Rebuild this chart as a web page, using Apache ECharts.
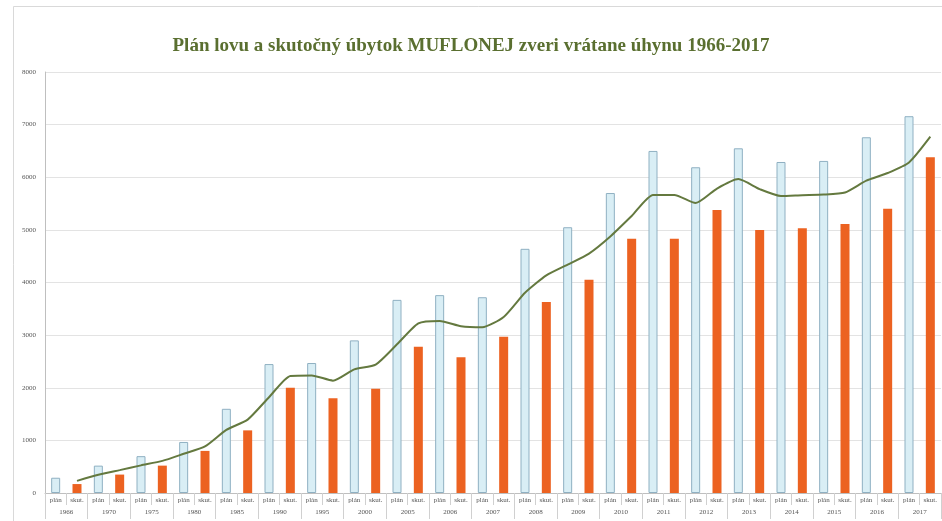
<!DOCTYPE html>
<html>
<head>
<meta charset="utf-8">
<script src="https://cdn.jsdelivr.net/npm/echarts@6/dist/echarts.min.js"></script>
<style>
html,body{margin:0;padding:0;background:#fff;}
#c{width:942px;height:521px;}
</style>
</head>
<body>
<div id="c"></div>
<script>
// ---- data ----
const years = ['1966','1970','1975','1980','1985','1990','1995','2000','2005','2006','2007','2008','2009','2010','2011','2012','2013','2014','2015','2016','2017'];
const subLabels = ['plán','skut.'];
const planValues = [290, 520, 700, 970, 1600, 2450, 2470, 2900, 3670, 3760, 3720, 4640, 5050, 5700, 6500, 6190, 6550, 6290, 6310, 6760, 7160];
const skutValues = [170, 350, 520, 800, 1190, 2000, 1800, 1980, 2780, 2580, 2970, 3630, 4050, 4830, 4830, 5380, 5000, 5030, 5110, 5400, 6380];
// trend line (2-period moving average as drawn), values from 'skut. 1966' onward
const trendValues = [230, 345, 435, 525, 610, 745, 885, 1200, 1395, 1820, 2225, 2235, 2135, 2350, 2440, 2825, 3225, 3270, 3170, 3150, 3345, 3805, 4135, 4340, 4550, 4875, 5265, 5665, 5665, 5510, 5785, 5965, 5775, 5645, 5660, 5670, 5710, 5935, 6080, 6280, 6770];
const yTicks = ['0','1000','2000','3000','4000','5000','6000','7000','8000'];
const titleText = 'Plán lovu a skutočný úbytok MUFLONEJ zveri vrátane úhynu 1966-2017';

// ---- build ----
const cats = [];
const planData = [];
const skutData = [];
years.forEach((y, i) => {
  cats.push(subLabels[0]); cats.push(subLabels[1]);
  planData.push(planValues[i]); planData.push(null);
  skutData.push(null); skutData.push(skutValues[i]);
});
const trendData = [null].concat(trendValues);

const chart = echarts.init(document.getElementById('c'));
const serif = '"Liberation Serif", "DejaVu Serif", serif';
chart.setOption({
  animation: false,
  backgroundColor: '#fff',
  graphic: [{
    type: 'rect', left: 11, top: 4, z: -10,
    shape: {width: 930, height: 530},
    style: {fill: 'none', stroke: '#d9d9d9', lineWidth: 1}
  }],
  title: {
    text: titleText,
    left: 'center', top: 32,
    textStyle: {fontFamily: serif, fontWeight: 'bold', fontSize: 19, color: '#5a6f30'}
  },
  grid: {left: 45, right: 1, top: 72, bottom: 28, containLabel: false},
  xAxis: [{
    type: 'category', data: cats, position: 'bottom',
    axisLine: {show: true, lineStyle: {color: '#bfbfbf'}},
    axisTick: {show: true, interval: 0, length: 12, lineStyle: {color: '#d0d0d0'}},
    axisLabel: {interval: 0, fontFamily: serif, fontSize: 7, color: '#555', margin: 4}
  }, {
    type: 'category', data: years, position: 'bottom', offset: 12,
    axisLine: {show: false},
    axisTick: {show: true, interval: 0, length: 14, lineStyle: {color: '#d0d0d0'}},
    axisLabel: {interval: 0, fontFamily: serif, fontSize: 7, color: '#555', margin: 4}
  }],
  yAxis: {
    type: 'value', min: 0, max: 8000, interval: 1000,
    axisLine: {show: true, lineStyle: {color: '#bfbfbf'}},
    axisTick: {show: false},
    splitLine: {lineStyle: {color: '#e3e3e3'}},
    axisLabel: {fontFamily: serif, fontSize: 7, color: '#555', margin: 9,
      formatter: (v) => yTicks[Math.round(v / 1000)]}
  },
  series: [{
    name: 'plán', type: 'bar', data: planData, barWidth: 9, barGap: '-100%',
    itemStyle: {color: '#d9eef5', borderColor: '#8fb0c2', borderWidth: 1}
  }, {
    name: 'skut.', type: 'bar', data: skutData, barWidth: 9,
    itemStyle: {color: '#ec6221'}
  }, {
    name: 'trend', type: 'line', data: trendData, smooth: 0.2,
    symbol: 'none', connectNulls: false,
    lineStyle: {color: '#64793f', width: 2},
    z: 5
  }]
});
</script>
</body>
</html>
